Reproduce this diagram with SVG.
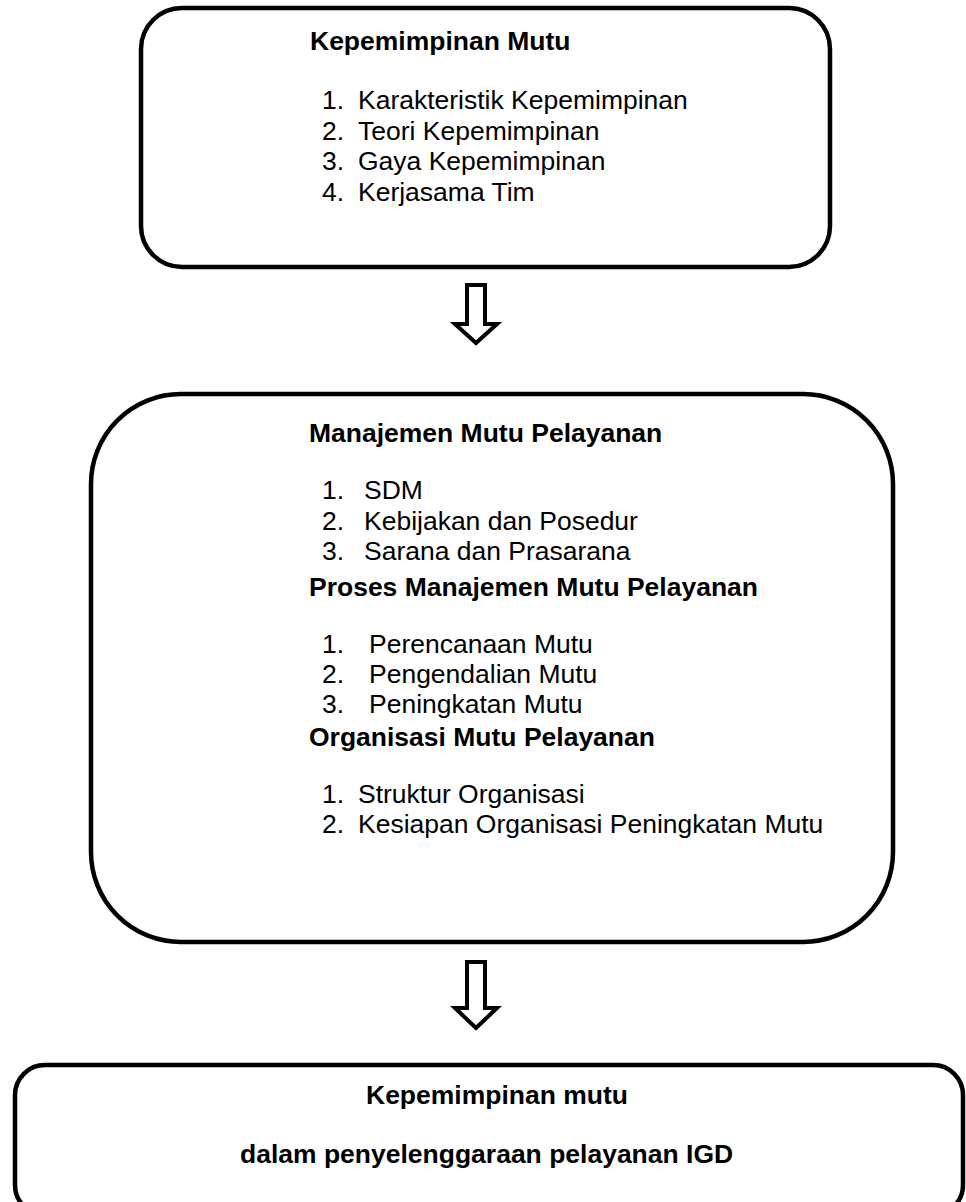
<svg xmlns="http://www.w3.org/2000/svg" width="966" height="1202" viewBox="0 0 966 1202">
<style>
.box{fill:#fff;stroke:#000;stroke-width:4.5}
.arrow{fill:#fff;stroke:#000;stroke-width:4;stroke-linejoin:miter}
text{font-family:"Liberation Sans",Arial,sans-serif;font-size:25px;fill:#000}
.b{font-weight:bold}
</style>
<rect width="966" height="1202" fill="#fff"/>
<g id="node-kepemimpinan">
<rect class="box" x="141" y="8" width="689" height="259" rx="41" ry="41"/>
<text class="b" transform="translate(310,50) scale(1.06,1)">Kepemimpinan Mutu</text>
<text transform="translate(322,109) scale(1.06,1)">1.</text>
<text transform="translate(358,109) scale(1.06,1)">Karakteristik Kepemimpinan</text>
<text transform="translate(322,140) scale(1.06,1)">2.</text>
<text transform="translate(358,140) scale(1.06,1)">Teori Kepemimpinan</text>
<text transform="translate(322,170) scale(1.06,1)">3.</text>
<text transform="translate(358,170) scale(1.06,1)">Gaya Kepemimpinan</text>
<text transform="translate(322,201) scale(1.06,1)">4.</text>
<text transform="translate(358,201) scale(1.06,1)">Kerjasama Tim</text>
</g>
<g id="node-manajemen">
<rect class="box" x="91" y="394" width="802" height="548" rx="90" ry="90"/>
<text class="b" transform="translate(309,442) scale(1.06,1)">Manajemen Mutu Pelayanan</text>
<text transform="translate(322,499) scale(1.06,1)">1.</text>
<text transform="translate(364,499) scale(1.06,1)">SDM</text>
<text transform="translate(322,530) scale(1.06,1)">2.</text>
<text transform="translate(364,530) scale(1.06,1)">Kebijakan dan Posedur</text>
<text transform="translate(322,560) scale(1.06,1)">3.</text>
<text transform="translate(364,560) scale(1.06,1)">Sarana dan Prasarana</text>
<text class="b" transform="translate(309,596) scale(1.06,1)">Proses Manajemen Mutu Pelayanan</text>
<text transform="translate(322,653) scale(1.06,1)">1.</text>
<text transform="translate(369,653) scale(1.06,1)">Perencanaan Mutu</text>
<text transform="translate(322,683) scale(1.06,1)">2.</text>
<text transform="translate(369,683) scale(1.06,1)">Pengendalian Mutu</text>
<text transform="translate(322,713) scale(1.06,1)">3.</text>
<text transform="translate(369,713) scale(1.06,1)">Peningkatan Mutu</text>
<text class="b" transform="translate(309,746) scale(1.06,1)">Organisasi Mutu Pelayanan</text>
<text transform="translate(322,803) scale(1.06,1)">1.</text>
<text transform="translate(358,803) scale(1.06,1)">Struktur Organisasi</text>
<text transform="translate(322,833) scale(1.06,1)">2.</text>
<text transform="translate(358,833) scale(1.06,1)">Kesiapan Organisasi Peningkatan Mutu</text>
</g>
<g id="node-igd">
<rect class="box" x="15" y="1065" width="948" height="150" rx="30" ry="30"/>
<text class="b" transform="translate(366,1104) scale(1.06,1)">Kepemimpinan mutu</text>
<text class="b" transform="translate(240,1163) scale(1.06,1)">dalam penyelenggaraan pelayanan IGD</text>
</g>
<g id="connectors">
<polygon class="arrow" points="467,285 485,285 485,324 497,324 476,343 455,324 467,324"/>
<polygon class="arrow" points="467,962 485,962 485,1008 497,1008 476,1028 455,1008 467,1008"/>
</g>
</svg>
